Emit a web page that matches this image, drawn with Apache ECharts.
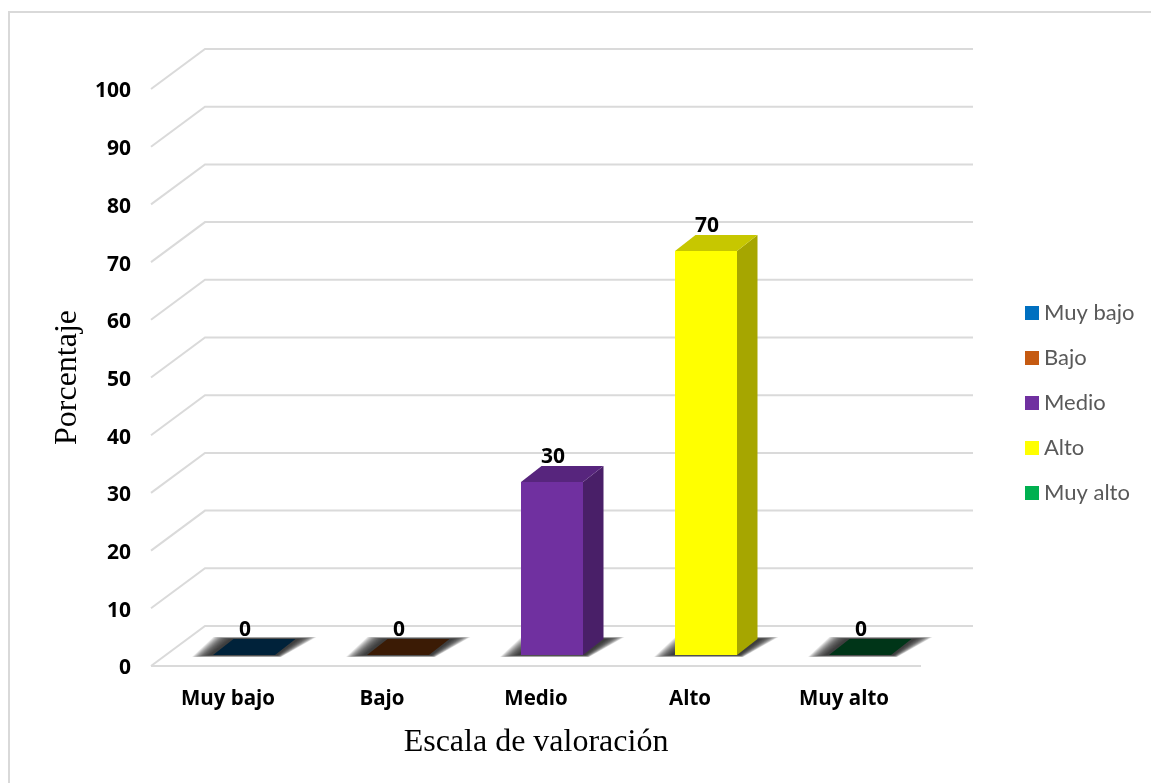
<!DOCTYPE html>
<html><head><meta charset="utf-8">
<style>html,body{margin:0;padding:0;background:#fff}#c{width:1151px;height:783px}</style>
<script src="https://cdn.jsdelivr.net/npm/echarts@6/dist/echarts.min.js"></script>
</head><body><div id="c"></div>
<script>
const categories = ['Muy bajo','Bajo','Medio','Alto','Muy alto'];
const values = [0,0,30,70,0];
const colors = ['#0070C0','#C55A11','#7030A0','#FFFF00','#00B050'];
const gridTicks = [0,10,20,30,40,50,60,70,80,90,100];

const WALL_DX = 54, WALL_DY = -40;     // depth of the back wall
const WALL_RIGHT_DX = 52;
const BAR_DX = 16, BAR_DY = -11;       // bar plane offset from front plane
const DEPTH_DX = 20.5, DEPTH_DY = -16; // bar depth
const BAR_W = 62;
const SHADOW_LAYERS = 20;

function shade(hex, f){
  const n = parseInt(hex.slice(1),16);
  const c = [n>>16&255,n>>8&255,n&255].map(v=>Math.round(v*f));
  return 'rgb('+c.join(',')+')';
}
const chart = echarts.init(document.getElementById('c'));

const wallSeries = {
  type:'custom', silent:true, z:1, legendHoverLink:false, clip:false,
  data: gridTicks.map(v=>[0,v]),
  encode:{x:0,y:1},
  renderItem(params, api){
    const y = api.coord([0, api.value(1)])[1];
    const g = params.coordSys, x0 = g.x, x1 = g.x + g.width;
    const pts = [[x0,y],[x0+WALL_DX,y+WALL_DY],[x1+WALL_RIGHT_DX,y+WALL_DY]];
    const style = {fill:null, stroke:'#dadada', lineWidth:2};
    const children = [{type:'polyline', shape:{points:pts}, style}];
    if(api.value(1)===0) children.push({type:'line', shape:{x1:x0,y1:y,x2:x1,y2:y}, style});
    return {type:'group', children};
  }
};

const barSeries = categories.map((name,i)=>({
  name, type:'custom', z:2, clip:false,
  itemStyle:{color:colors[i]},
  data:[[i, values[i]]],
  encode:{x:0,y:1},
  renderItem(params, api){
    const p = api.coord([api.value(0), api.value(1)]);
    const base = api.coord([api.value(0), 0]);
    const xl = p[0] + BAR_DX - BAR_W/2, xr = xl + BAR_W;
    const yb = base[1] + BAR_DY, yt = p[1] + BAR_DY;
    const v = api.value(1), c = colors[i];
    const poly = (points, fill)=>({type:'polygon', shape:{points}, style:{fill}});
    const children = [];
    // soft floor shadow built from nested translucent layers
    const inner = [[xl-3,yb],[xr+2,yb],[xr+DEPTH_DX+3,yb+DEPTH_DY],[xl+DEPTH_DX-3,yb+DEPTH_DY]];
    const outer = [[xl-21,yb+2],[xr+6,yb+2],[xr+DEPTH_DX+21,yb+DEPTH_DY-2],[xl+DEPTH_DX-20,yb+DEPTH_DY-2]];
    for(let k=0;k<SHADOW_LAYERS;k++){
      const t = k/(SHADOW_LAYERS-1);
      const pts = outer.map((o,j)=>[o[0]+(inner[j][0]-o[0])*t, o[1]+(inner[j][1]-o[1])*t]);
      children.push(poly(pts,'rgba(30,30,30,0.09)'));
    }
    if(v===0){
      children.push(poly([[xl,yb],[xr,yb],[xr+DEPTH_DX,yb+DEPTH_DY],[xl+DEPTH_DX,yb+DEPTH_DY]], shade(c,0.3)));
    } else {
      children.push(poly([[xr,yt],[xr+DEPTH_DX,yt+DEPTH_DY],[xr+DEPTH_DX,yb+DEPTH_DY],[xr,yb]], shade(c,0.65)));
      children.push(poly([[xl,yt],[xr,yt],[xr+DEPTH_DX,yt+DEPTH_DY],[xl+DEPTH_DX,yt+DEPTH_DY]], shade(c,0.78)));
      children.push({type:'rect', shape:{x:xl,y:yt,width:BAR_W,height:yb-yt}, style:{fill:c}});
    }
    children.push({type:'text', style:{text:String(v), x:(xl+xr)/2+1, y:yt-25, align:'center', verticalAlign:'middle',
      font:'bold 21px "Open Sans"', fill:'#000'}});
    return {type:'group', children};
  }
}));

chart.setOption({
  animation:false,
  backgroundColor:'#fff',
  grid:{left:151, top:89, width:770, height:577, containLabel:false},
  xAxis:{type:'category', data:categories, position:'bottom',
    axisLine:{show:false}, axisTick:{show:false}, splitLine:{show:false},
    axisLabel:{color:'#000', fontFamily:'Open Sans', fontWeight:'bold', fontSize:20.5, margin:23},
    name:'Escala de valoración', nameLocation:'middle', nameGap:61,
    nameTextStyle:{fontFamily:'Liberation Serif', fontSize:32, color:'#000'}},
  yAxis:{type:'value', min:0, max:100, interval:10,
    axisLine:{show:false}, axisTick:{show:false}, splitLine:{show:false},
    axisLabel:{margin:20, formatter:'{t|{value}}',
      rich:{t:{color:'#000', fontFamily:'Open Sans', fontWeight:'bold', fontSize:21, padding:[5,0,0,0]}}},
    name:'Porcentaje', nameLocation:'middle', nameGap:66, nameRotate:90,
    nameTextStyle:{fontFamily:'Liberation Serif', fontSize:32, color:'#000'}},
  legend:{orient:'vertical', left:1020, top:297, icon:'rect', itemWidth:14, itemHeight:14, itemGap:23,
    data:categories, selectedMode:false,
    textStyle:{fontFamily:'Lato', fontSize:22, color:'#595959'}},
  graphic:[{type:'polyline', silent:true, z:0, shape:{points:[[9,790],[9,12],[1160,12]]},
    style:{fill:null, stroke:'#d9d9d9', lineWidth:2}}],
  series:[wallSeries, ...barSeries]
});
</script></body></html>
